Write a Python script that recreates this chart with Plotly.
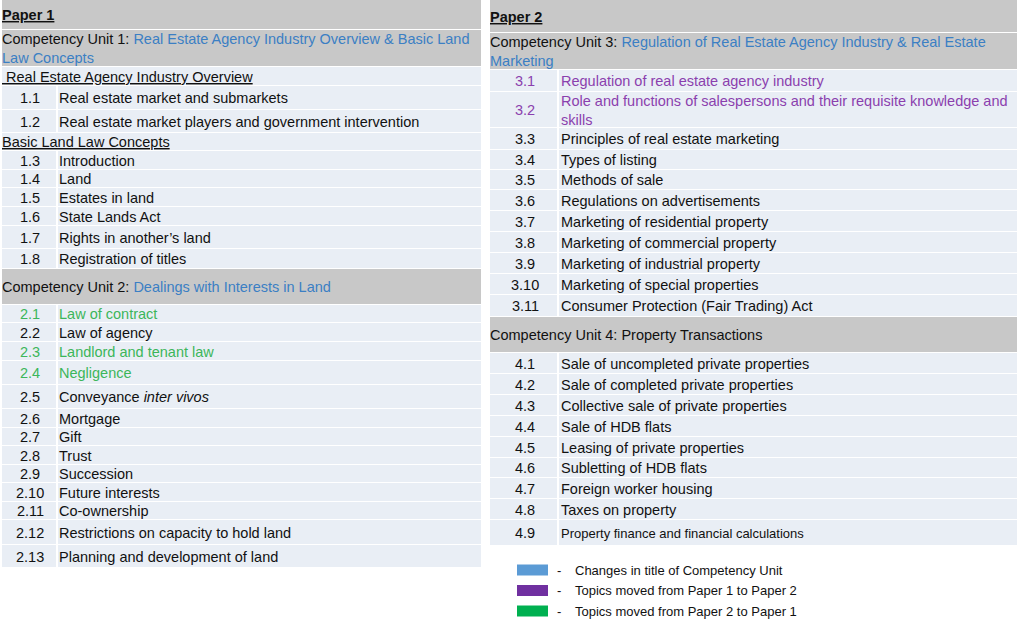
import plotly.graph_objects as go

# ---- data ----
paper1_title = "Paper 1"
paper2_title = "Paper 2"
cu_labels = ["Competency Unit 1: ", "Competency Unit 2: ", "Competency Unit 3: ", "Competency Unit 4: "]
cu_titles = ["Real Estate Agency Industry Overview & Basic Land<br>Law Concepts",
             "Dealings with Interests in Land",
             "Regulation of Real Estate Agency Industry & Real Estate<br>Marketing",
             "Property Transactions"]
cu_title_changed = [True, True, True, False]

sec_1a = "Real Estate Agency Industry Overview"
codes_1a = ["1.1", "1.2"]
topics_1a = ["Real estate market and submarkets",
             "Real estate market players and government intervention"]
sec_1b = "Basic Land Law Concepts"
codes_1b = ["1.3", "1.4", "1.5", "1.6", "1.7", "1.8"]
topics_1b = ["Introduction", "Land", "Estates in land", "State Lands Act",
             "Rights in another\u2019s land", "Registration of titles"]

codes_2 = ["2.1", "2.2", "2.3", "2.4", "2.5", "2.6", "2.7", "2.8", "2.9",
           "2.10", "2.11", "2.12", "2.13"]
topics_2 = ["Law of contract", "Law of agency", "Landlord and tenant law", "Negligence",
            "Conveyance <i>inter vivos</i>", "Mortgage", "Gift", "Trust", "Succession",
            "Future interests", "Co-ownership", "Restrictions on capacity to hold land",
            "Planning and development of land"]
moved_2 = ["2.1", "2.3", "2.4"]          # moved from Paper 2 to Paper 1

codes_3 = ["3.1", "3.2", "3.3", "3.4", "3.5", "3.6", "3.7", "3.8", "3.9", "3.10", "3.11"]
topics_3 = ["Regulation of real estate agency industry",
            "Role and functions of salespersons and their requisite knowledge and<br>skills",
            "Principles of real estate marketing", "Types of listing", "Methods of sale",
            "Regulations on advertisements", "Marketing of residential property",
            "Marketing of commercial property", "Marketing of industrial property",
            "Marketing of special properties", "Consumer Protection (Fair Trading) Act"]
moved_3 = ["3.1", "3.2"]                 # moved from Paper 1 to Paper 2

codes_4 = ["4.1", "4.2", "4.3", "4.4", "4.5", "4.6", "4.7", "4.8", "4.9"]
topics_4 = ["Sale of uncompleted private properties", "Sale of completed private properties",
            "Collective sale of private properties", "Sale of HDB flats",
            "Leasing of private properties", "Subletting of HDB flats",
            "Foreign worker housing", "Taxes on property",
            "Property finance and financial calculations"]

legend_labels = ["Changes in title of Competency Unit",
                 "Topics moved from Paper 1 to Paper 2",
                 "Topics moved from Paper 2 to Paper 1"]

# ---- styles / layout ----
W, H = 1018, 627
GRAY = "#c8c8c8"
CELL = "#e9eef5"
BLUE_TXT = "#3b7fc4"
PURPLE_TXT = "#8b3fae"
GREEN_TXT = "#3cb65a"
TXT = "#111111"
SWATCH = ["#5b9bd5", "#7030a0", "#00b050"]
FONT = "Liberation Sans, Arial, sans-serif"
FS = 14.5
SMALL_TOPIC_FS = 13
small_topic_codes = ["4.9"]

left_heights = [30, 37, 19, 24, 23, 18, 19, 18, 19, 19, 23, 20, 36,
                18, 19, 19, 24, 24, 19, 18, 19, 18, 19, 18, 25, 23]
right_heights = [33, 37, 22, 36, 22, 20, 20, 21, 21, 21, 21, 21, 22, 36,
                 21, 21, 21, 21, 21, 20, 21, 21, 26]
left_col = dict(x0=2, x1=481, div=57, code_x=30, text_x=59, top=0)
right_col = dict(x0=490, x1=1017, div=558, code_x=525, text_x=561, top=0)

# rows: (kind, a, b, color)
left_rows = [("paper", paper1_title, None, None),
             ("cu", cu_labels[0], cu_titles[0], BLUE_TXT if cu_title_changed[0] else TXT),
             ("sec", "\u00a0" + sec_1a, None, None)]
left_rows += [("item", c, t, TXT) for c, t in zip(codes_1a, topics_1a)]
left_rows += [("sec", sec_1b, None, None)]
left_rows += [("item", c, t, TXT) for c, t in zip(codes_1b, topics_1b)]
left_rows += [("cu", cu_labels[1], cu_titles[1], BLUE_TXT if cu_title_changed[1] else TXT)]
left_rows += [("item", c, t, GREEN_TXT if c in moved_2 else TXT) for c, t in zip(codes_2, topics_2)]

right_rows = [("paper", paper2_title, None, None),
              ("cu", cu_labels[2], cu_titles[2], BLUE_TXT if cu_title_changed[2] else TXT)]
right_rows += [("item", c, t, PURPLE_TXT if c in moved_3 else TXT) for c, t in zip(codes_3, topics_3)]
right_rows += [("cu", cu_labels[3], cu_titles[3], BLUE_TXT if cu_title_changed[3] else TXT)]
right_rows += [("item", c, t, TXT) for c, t in zip(codes_4, topics_4)]

fig = go.Figure()
shapes, annotations = [], []


def rect(x0, y0, x1, y1, color):
    shapes.append(dict(type="rect", xref="x", yref="y", x0=x0, x1=x1, y0=y0, y1=y1,
                       fillcolor=color, line=dict(width=0), layer="below"))


def text(x, y, s, color=TXT, size=FS, xanchor="left"):
    annotations.append(dict(x=x, y=y, xref="x", yref="y", text=s, showarrow=False,
                            xanchor=xanchor, yanchor="middle", align="left",
                            borderpad=0, borderwidth=0,
                            font=dict(family=FONT, size=size, color=color)))


def draw_column(rows, heights, col):
    y = col["top"]
    for (kind, a, b, color), h in zip(rows, heights):
        y0, y1 = y, y + h
        yc = (y0 + y1) / 2
        if kind == "paper":
            rect(col["x0"], y0, col["x1"], y1 - 1, GRAY)
            text(col["x0"], yc, "<b><u>" + a + "</u></b>")
        elif kind == "cu":
            rect(col["x0"], y0, col["x1"], y1 - 1, GRAY)
            text(col["x0"], yc, a + "<span style='color:%s'>%s</span>" % (color, b))
        elif kind == "sec":
            rect(col["x0"], y0, col["x1"], y1 - 1, CELL)
            text(col["x0"], yc, "<u>" + a + "</u>")
        else:
            rect(col["x0"], y0, col["div"] - 1, y1 - 1, CELL)
            rect(col["div"] + 1, y0, col["x1"], y1 - 1, CELL)
            size = SMALL_TOPIC_FS if a in small_topic_codes else FS
            text(col["code_x"], yc, a, color, xanchor="center")
            text(col["text_x"], yc, b, color, size)
        y = y1


draw_column(left_rows, left_heights, left_col)
draw_column(right_rows, right_heights, right_col)

# legend
leg_y = [570, 590.5, 611]
for yc, lab, sw in zip(leg_y, legend_labels, SWATCH):
    rect(517, yc - 5.5, 548, yc + 5.5, sw)
    text(557, yc, "-", TXT, 13)
    text(575, yc, lab, TXT, 13)

fig.update_layout(
    width=W, height=H,
    margin=dict(l=0, r=0, t=0, b=0),
    paper_bgcolor="white", plot_bgcolor="white",
    xaxis=dict(range=[0, W], visible=False, fixedrange=True),
    yaxis=dict(range=[H, 0], visible=False, fixedrange=True),
    shapes=shapes, annotations=annotations,
    showlegend=False,
)

fig.write_html("out.html", config={"displayModeBar": False},
               post_script="document.body.style.margin='0';")
